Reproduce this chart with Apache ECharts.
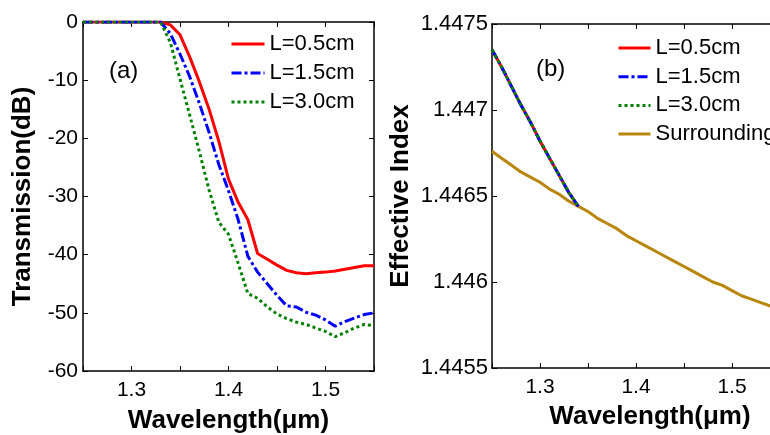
<!DOCTYPE html>
<html>
<head>
<meta charset="utf-8">
<script src="https://cdn.jsdelivr.net/npm/echarts@6/dist/echarts.min.js"></script>
<style>
  html, body { margin: 0; padding: 0; background: #fff; }
  #main { width: 770px; height: 435px; }
</style>
</head>
<body>
<div id="main"></div>
<script>
// wavelength grid (um)
var wl = [1.25, 1.26, 1.27, 1.28, 1.29, 1.30, 1.31, 1.32, 1.33, 1.34, 1.35, 1.36, 1.37, 1.38, 1.39, 1.40,
          1.41, 1.42, 1.43, 1.44, 1.45, 1.46, 1.47, 1.48, 1.49, 1.50, 1.51, 1.52, 1.53, 1.54, 1.55];

// (a) transmission in dB
var tL05 = [0, 0, 0, 0, 0, 0, 0, 0, 0, -0.5, -2.2, -6, -10.3, -15, -20.5, -27,
            -31, -34, -39.8, -40.8, -41.8, -42.7, -43.1, -43.3, -43.1, -43, -42.8, -42.5, -42.2, -41.9, -41.9];
var tL15 = [0, 0, 0, 0, 0, 0, 0, 0, 0, -2, -5.5, -9.4, -14, -19, -24.5, -29,
            -34, -40.3, -43, -45, -47, -48.8, -49, -49.9, -50.4, -51.2, -52.3, -51.5, -50.9, -50.3, -50];
var tL30 = [0, 0, 0, 0, 0, 0, 0, 0, 0, -3.5, -9.8, -16, -22.3, -28.9, -34.4, -36.5,
            -41.5, -46.7, -47.5, -49, -50.2, -51, -51.6, -52, -52.6, -53.2, -54.1, -53.4, -52.6, -52, -52.2];

// (b) effective index
var modeWl = [1.25, 1.26, 1.27, 1.28, 1.29, 1.30, 1.31, 1.32, 1.33, 1.34];
var nMode = [1.44735, 1.44725, 1.44714, 1.44703, 1.44693, 1.44682, 1.44672, 1.44662, 1.44652, 1.44644];
var nSurr = [1.44676, 1.44672, 1.44668, 1.44664, 1.44661, 1.44658, 1.44654, 1.44651, 1.44647, 1.44644,
             1.44641, 1.44637, 1.44634, 1.44631, 1.44627, 1.44624, 1.44621, 1.44618, 1.44615, 1.44612,
             1.44609, 1.44606, 1.44603, 1.44600, 1.44598, 1.44595, 1.44592, 1.44590, 1.44588, 1.44586, 1.44584];

var legNames = ['L=0.5cm', 'L=1.5cm', 'L=3.0cm'];
var xTicks = ['1.3', '1.4', '1.5'];

function pairs(xs, ys) {
    var out = [];
    for (var i = 0; i < ys.length; i++) out.push([xs[i], ys[i]]);
    return out;
}

var FONT = '"Liberation Sans", Arial, Helvetica, sans-serif';
var lineStyles = [
    { color: '#ff0000', width: 3, type: 'solid' },
    { color: '#0000ff', width: 3, type: [10, 3, 3, 3] },
    { color: '#008000', width: 3, type: [3, 3] }
];

function xAxisPair(gi, nameGap, shift) {
    var base = {
        gridIndex: gi, type: 'value', min: 1.25, max: 1.55, interval: 0.05,
        axisLine: { show: true, onZero: false, lineStyle: { color: '#000', width: 1.5 } },
        splitLine: { show: false },
        axisTick: { show: true, inside: true, length: 5, lineStyle: { color: '#000', width: 1 },
                    interval: function (i, v) { return xTicks.indexOf(String(v)) >= 0; } }
    };
    var bottom = Object.assign({}, base, {
        position: 'bottom',
        name: 'Wavelength(\u03bcm)', nameLocation: 'middle', nameGap: nameGap,
        nameTextStyle: { fontFamily: FONT, fontSize: 26, fontWeight: 'bold', color: '#000',
                         padding: [0, 0, 0, shift] },
        axisLabel: { show: true, margin: 9, fontFamily: FONT, fontSize: 21, color: '#000',
                     formatter: function (v) { var s = parseFloat(v.toFixed(2)).toString(); return xTicks.indexOf(s) >= 0 ? s : ''; } }
    });
    var top = Object.assign({}, base, { position: 'top', axisLabel: { show: false } });
    return [bottom, top];
}

function seriesA() {
    var list = [tL05, tL15, tL30];
    return list.map(function (arr, k) {
        return {
            name: legNames[k], type: 'line', xAxisIndex: 0, yAxisIndex: 0,
            data: pairs(wl, arr), symbol: 'none', lineStyle: lineStyles[k],
            itemStyle: { color: lineStyles[k].color }, z: 3 + k
        };
    });
}

function seriesB() {
    var out = [0, 1, 2].map(function (k) {
        return {
            name: legNames[k], type: 'line', xAxisIndex: 2, yAxisIndex: 2,
            data: pairs(modeWl, nMode), symbol: 'none', lineStyle: lineStyles[k],
            itemStyle: { color: lineStyles[k].color }, z: 4 + k
        };
    });
    out.push({
        name: 'Surrounding', type: 'line', xAxisIndex: 2, yAxisIndex: 2,
        data: pairs(wl, nSurr), symbol: 'none',
        lineStyle: { color: '#b8860b', width: 3 }, itemStyle: { color: '#b8860b' }, z: 3
    });
    return out;
}

var chart = echarts.init(document.getElementById('main'), null, { renderer: 'canvas' });
var xa = xAxisPair(0, 37, 0), xb = xAxisPair(1, 36, 28);

var legendText = { fontFamily: FONT, fontSize: 22, color: '#000', lineHeight: 20 };

var option = {
    backgroundColor: '#fff',
    animation: false,
    grid: [
        { left: 83, top: 22, width: 291, height: 349, show: false, containLabel: false, outerBoundsMode: 'none' },
        { left: 492, top: 24, width: 288, height: 344, show: false, containLabel: false, outerBoundsMode: 'none' }
    ],
    xAxis: [xa[0], xa[1], xb[0], xb[1]],
    yAxis: [
        { gridIndex: 0, type: 'value', min: -60, max: 0, interval: 10, position: 'left',
          name: 'Transmission(dB)', nameLocation: 'middle', nameGap: 47, nameRotate: 90,
          nameTextStyle: { fontFamily: FONT, fontSize: 26, fontWeight: 'bold', color: '#000' },
          axisLine: { show: true, onZero: false, lineStyle: { color: '#000', width: 1.5 } },
          axisTick: { show: true, inside: true, length: 5, lineStyle: { color: '#000' } },
          axisLabel: { margin: 5, fontFamily: FONT, fontSize: 21, color: '#000' },
          splitLine: { show: false } },
        { gridIndex: 0, type: 'value', min: -60, max: 0, interval: 10, position: 'right',
          axisLine: { show: true, onZero: false, lineStyle: { color: '#000', width: 1.5 } },
          axisTick: { show: true, inside: true, length: 5, lineStyle: { color: '#000' } },
          axisLabel: { show: false }, splitLine: { show: false } },
        { gridIndex: 1, type: 'value', min: 1.4455, max: 1.4475, interval: 0.0005, position: 'left',
          name: 'Effective Index', nameLocation: 'middle', nameGap: 78, nameRotate: 90,
          nameTextStyle: { fontFamily: FONT, fontSize: 26, fontWeight: 'bold', color: '#000' },
          axisLine: { show: true, onZero: false, lineStyle: { color: '#000', width: 1.5 } },
          axisTick: { show: true, inside: true, length: 5, lineStyle: { color: '#000' } },
          axisLabel: { margin: 4, fontFamily: FONT, fontSize: 22, color: '#000',
                       formatter: function (v) { return parseFloat(v.toFixed(4)).toString(); } },
          splitLine: { show: false } },
        { gridIndex: 1, type: 'value', min: 1.4455, max: 1.4475, interval: 0.0005, position: 'right',
          axisLine: { show: true, onZero: false, lineStyle: { color: '#000', width: 1.5 } },
          axisTick: { show: true, inside: true, length: 5, lineStyle: { color: '#000' } },
          axisLabel: { show: false }, splitLine: { show: false } }
    ],
    legend: [
        { data: legNames, orient: 'vertical', left: 230, top: 33, padding: 0,
          itemWidth: 33, itemHeight: 10, itemGap: 7, selectedMode: false,
          itemStyle: { opacity: 0 }, lineStyle: { width: 3 }, textStyle: legendText },
        { data: legNames.concat(['Surrounding']), orient: 'vertical', left: 617, top: 37, padding: 0,
          itemWidth: 32, itemHeight: 10, itemGap: 6.7, selectedMode: false,
          itemStyle: { opacity: 0 }, lineStyle: { width: 3 }, textStyle: legendText }
    ],
    graphic: [
        { type: 'text', left: 109, top: 59, style: { text: '(a)', font: '24px ' + FONT, fill: '#000' } },
        { type: 'text', left: 536, top: 57, style: { text: '(b)', font: '24px ' + FONT, fill: '#000' } }
    ],
    series: seriesA().concat(seriesB())
};
chart.setOption(option);
</script>
</body>
</html>
